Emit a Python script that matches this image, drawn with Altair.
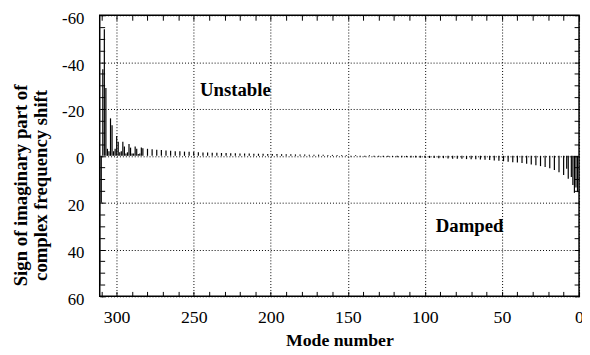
import altair as alt
import pandas as pd

# ---- data ----
modes_left = [311, 310, 309, 308, 307, 306, 305, 304, 303, 302, 301, 300, 299, 298,
              297, 296, 295, 294, 293, 292, 291, 290, 289, 288, 287, 286, 285, 284]
values_left = [55, 20, -37, -54, -29, -3, -2, -16, -13, -2, -3, -8.5, -6, -1.5,
               -2, -6, -4, -1, -1.5, -5, -3.5, -1, -1, -4, -3, -0.8, -1, -3.5]

modes_mid = [283, 280, 277, 274, 271, 268, 265, 262, 259, 256, 253, 250,
             247, 244, 241, 238, 235, 232, 229, 226, 223, 220, 217, 214, 211, 208, 205, 202,
             199, 196, 193, 190, 187, 184, 181, 178, 175, 172, 169, 166, 163, 160, 157, 154, 151,
             148, 145, 142, 139, 136, 133, 130, 127, 124, 121, 118, 115, 112, 109, 106, 103, 100,
             97, 94, 91, 88, 85, 82, 79, 76, 73, 70, 67, 64, 61, 58, 55, 52,
             49, 46, 43, 40, 37, 34, 31, 28, 25, 22, 19, 16, 13, 10, 7, 4, 1]
values_mid = [-3.2, -3.0, -2.8, -2.6, -2.5, -2.3, -2.2, -2.0, -1.9, -1.8, -1.7, -1.6,
              -1.5, -1.4, -1.4, -1.3, -1.3, -1.2, -1.2, -1.1, -1.1, -1.0, -1.0, -1.0, -0.9, -0.9, -0.9, -0.8,
              -0.8, -0.8, -0.7, -0.7, -0.7, -0.6, -0.6, -0.6, -0.5, -0.5, -0.5, -0.5, -0.4, -0.4, -0.4, -0.3, -0.3,
              0.3, -0.3, 0.3, 0.4, -0.3, 0.4, 0.4, 0.5, 0.5, 0.5, 0.6, 0.6, 0.6, 0.7, 0.7, 0.8, 0.8,
              0.9, 0.9, 1.0, 1.0, 1.1, 1.2, 1.2, 1.3, 1.4, 1.5, 1.5, 1.6, 1.7, 1.8, 2.0, 2.1,
              2.3, 2.5, 2.7, 2.9, 3.1, 3.4, 3.7, 4.0, 4.4, 4.8, 5.3, 6.0, 7.0, 8.2, 9.8, 12.5, 15.5]

modes_right = [8, 5, 3, 2]
values_right = [5.5, 9, 15.8, 13.5]

label_text = ["Unstable", "Damped"]
label_mode = [223, 71]
label_value = [-28, 30]

x_major = [300, 250, 200, 150, 100, 50, 0]
y_major = [-60, -40, -20, 0, 20, 40, 60]
x_minor = [0, 10, 20, 30, 40, 50, 60, 70, 80, 90, 100, 110, 120, 130, 140, 150, 160,
           170, 180, 190, 200, 210, 220, 230, 240, 250, 260, 270, 280, 290, 300, 310]
y_minor = [-60, -55, -50, -45, -40, -35, -30, -25, -20, -15, -10, -5, 0,
           5, 10, 15, 20, 25, 30, 35, 40, 45, 50, 55, 60]

df = pd.DataFrame({"mode": modes_left + modes_mid + modes_right,
                   "value": values_left + values_mid + values_right})
lab = pd.DataFrame({"mode": label_mode, "value": label_value, "text": label_text})

W, H = 486, 285
SERIF = "Liberation Serif"
xs = alt.Scale(domain=[0, 311], reverse=True, nice=False, zero=False)
ys = alt.Scale(domain=[-60, 60], reverse=True, nice=False, zero=False)

bars = alt.Chart(df).mark_rule(color="black", strokeWidth=1.2).encode(
    x=alt.X("mode:Q", scale=xs, axis=alt.Axis(
        values=x_major, title="Mode number", grid=True, gridDash=[1, 2],
        gridColor="black", gridWidth=1, gridOpacity=1, ticks=False, tickSize=0,
        domain=False, labelPadding=12, labelFont=SERIF, labelFontSize=18,
        labelColor="black", labelFlush=False, labelOverlap=False,
        labelExpr="'' + datum.value",
        titleFont=SERIF, titleFontSize=18, titleFontWeight="bold",
        titleColor="black", titlePadding=6)),
    y=alt.Y("value:Q", scale=ys, axis=alt.Axis(
        values=y_major, title=["Sign of imaginary part of", "complex frequency shift"],
        grid=True, gridDash=[1, 2], gridColor="black", gridWidth=1, gridOpacity=1,
        ticks=False, tickSize=0, domain=False, labelPadding=16, labelFont=SERIF,
        labelFontSize=17, labelColor="black", labelFlush=False, labelOverlap=False,
        labelExpr="'' + datum.value", labelOffset=3,
        titleFont=SERIF, titleFontSize=19, titleFontWeight="bold",
        titleColor="black", titlePadding=11, titleLineHeight=21, titleY=172)),
    y2=alt.datum(0),
)

ticks_a = alt.Chart(df).mark_rule(opacity=0).encode(
    x=alt.X("mode:Q", scale=xs, axis=alt.Axis(
        orient="bottom", offset=-H, values=x_minor, labels=False, domain=False,
        grid=False, ticks=True, tickSize=5, tickColor="black", tickWidth=1, title="")),
    y=alt.Y("value:Q", scale=ys, axis=alt.Axis(
        orient="right", offset=-W, values=y_minor, labels=False, domain=False,
        grid=False, ticks=True, tickSize=5, tickColor="black", tickWidth=1, title="")),
)

ticks_b = alt.Chart(df).mark_rule(opacity=0).encode(
    x=alt.X("mode:Q", scale=xs, axis=alt.Axis(
        orient="top", offset=-H, values=x_minor, labels=False, domain=False,
        grid=False, ticks=True, tickSize=5, tickColor="black", tickWidth=1, title="")),
    y=alt.Y("value:Q", scale=ys, axis=alt.Axis(
        orient="left", offset=-W, values=y_minor, labels=False, domain=False,
        grid=False, ticks=True, tickSize=5, tickColor="black", tickWidth=1, title="")),
)

texts = alt.Chart(lab).mark_text(font=SERIF, fontSize=19, fontWeight="bold",
                                 color="black").encode(
    x=alt.X("mode:Q", scale=xs, axis=None),
    y=alt.Y("value:Q", scale=ys, axis=None),
    text="text:N",
)

chart = alt.layer(bars, ticks_a, ticks_b, texts).resolve_axis(
    x="independent", y="independent"
).properties(
    width=W, height=H,
    autosize=alt.AutoSizeParams(type="none"),
    padding={"left": 93, "top": 5, "right": 3, "bottom": 52},
    background="white",
).configure_view(stroke="black", strokeWidth=1.5)

chart.save("out.html", embed_options={"renderer": "svg", "actions": False})
